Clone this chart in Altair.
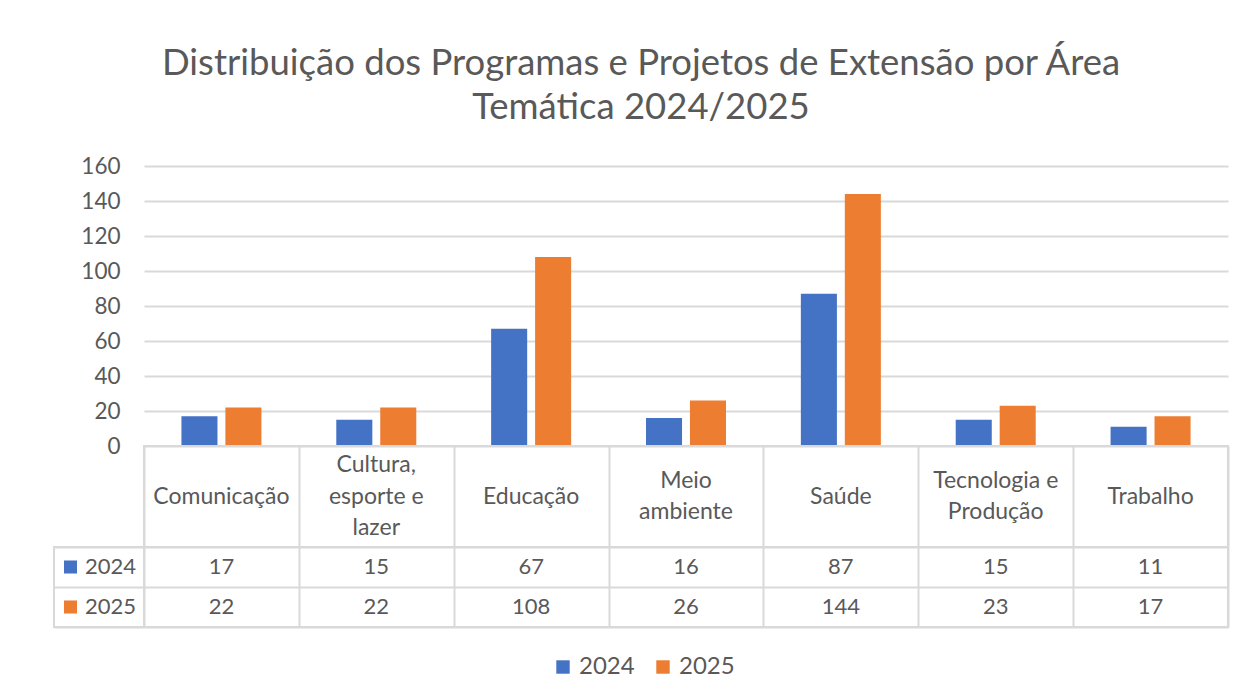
import altair as alt
import pandas as pd

categories = ["Comunicação", "Cultura, esporte e lazer", "Educação", "Meio ambiente",
              "Saúde", "Tecnologia e Produção", "Trabalho"]
header_lines = [["Comunicação"], ["Cultura,", "esporte e", "lazer"], ["Educação"],
                ["Meio", "ambiente"], ["Saúde"], ["Tecnologia e", "Produção"], ["Trabalho"]]
years = ["2024", "2025"]
values_2024 = [17, 15, 67, 16, 87, 15, 11]
values_2025 = [22, 22, 108, 26, 144, 23, 17]
y_ticks = [0, 20, 40, 60, 80, 100, 120, 140, 160]
colors = ["#4472C4", "#ED7D31"]

FONT = "Lato"
TXT = "#595959"
GRID = "#D9D9D9"

rows = []
for c, a, b in zip(categories, values_2024, values_2025):
    rows.append({"cat": c, "year": "2024", "value": a})
    rows.append({"cat": c, "year": "2025", "value": b})
df = pd.DataFrame(rows)

hrows = []
for c, lines in zip(categories, header_lines):
    n = len(lines)
    for i, t in enumerate(lines):
        hrows.append({"cat": c, "line": t, "pos": (n - 1) / 2 - i})
hdr = pd.DataFrame(hrows)
yr = pd.DataFrame({"year": years})

color_scale = alt.Scale(domain=years, range=colors)

PLOT_W = 1084
LBL_W = 90
HDR_H = 101
LINE_H = 31.5

bars = alt.Chart(df).mark_bar().encode(
    x=alt.X("cat:N", sort=categories, axis=None,
            scale=alt.Scale(paddingInner=0.4834, paddingOuter=0.2417)),
    xOffset=alt.XOffset("year:N", sort=years, scale=alt.Scale(paddingInner=0.18, paddingOuter=0)),
    y=alt.Y("value:Q", scale=alt.Scale(domain=[0, 160], nice=False),
            axis=alt.Axis(values=y_ticks, title=None, domain=False, ticks=False,
                          labelPadding=24, labelFont=FONT, labelFontSize=22.5,
                          labelColor=TXT, gridColor=GRID, gridWidth=2)),
    color=alt.Color("year:N", scale=color_scale,
                    legend=alt.Legend(title=None, orient="none", direction="horizontal",
                                      legendX=497, legendY=489,
                                      labelFont=FONT, labelFontSize=24, labelColor=TXT,
                                      symbolType="square", symbolSize=180, symbolStrokeWidth=0,
                                      columnPadding=16, labelOffset=4)),
).properties(width=PLOT_W, height=280)

spacer_df = pd.DataFrame({"a": [0]})
spacer1 = alt.Chart(spacer_df).mark_text(text="").properties(width=LBL_W, height=280)
spacer2 = alt.Chart(spacer_df).mark_text(text="").properties(width=LBL_W, height=HDR_H)

grid_axis = dict(labels=False, ticks=False, domain=False, title=None, grid=True,
                 gridColor=GRID, gridWidth=2, tickBand="extent")
table_view = alt.ViewBackground(stroke=GRID, strokeWidth=2)

half = HDR_H / LINE_H / 2
header = alt.Chart(hdr).mark_text(font=FONT, fontSize=23, color=TXT, baseline="middle").encode(
    x=alt.X("cat:N", sort=categories, scale=alt.Scale(paddingInner=0, paddingOuter=0),
            axis=alt.Axis(**grid_axis)),
    y=alt.Y("pos:Q", scale=alt.Scale(domain=[-half, half], nice=False, zero=False), axis=None),
    text="line:N",
).properties(width=PLOT_W, height=HDR_H, view=table_view)

values = alt.Chart(df).mark_text(font=FONT, fontSize=22, color=TXT, baseline="middle").encode(
    x=alt.X("cat:N", sort=categories, scale=alt.Scale(paddingInner=0, paddingOuter=0),
            axis=alt.Axis(**grid_axis)),
    y=alt.Y("year:N", sort=years, scale=alt.Scale(paddingInner=0, paddingOuter=0),
            axis=alt.Axis(**grid_axis)),
    text="value:Q",
).properties(width=PLOT_W, height=80, view=table_view)

lab_base = alt.Chart(yr).encode(
    y=alt.Y("year:N", sort=years, scale=alt.Scale(paddingInner=0, paddingOuter=0),
            axis=alt.Axis(**grid_axis)),
)
lab_sq = lab_base.mark_square(size=170, opacity=1).encode(
    x=alt.value(16.5),
    color=alt.Color("year:N", scale=color_scale, legend=None),
)
lab_txt = lab_base.mark_text(font=FONT, fontSize=22, color=TXT, align="left",
                             baseline="middle").encode(
    x=alt.value(31),
    text="year:N",
)
labels = alt.layer(lab_sq, lab_txt).properties(width=LBL_W, height=80, view=table_view)

chart = alt.concat(
    spacer1, bars, spacer2, header, labels, values,
    columns=2, spacing=0, bounds="flush",
).properties(
    title=alt.TitleParams(
        text=["Distribuição dos Programas e Projetos de Extensão por Área",
              "Temática 2024/2025"],
        font=FONT, fontSize=36.5, fontWeight="normal", color=TXT, anchor="middle",
        lineHeight=44, offset=29),
    padding={"left": 45, "top": 37, "right": 5, "bottom": 5},
    background="white",
).configure_view(stroke=None)

chart.save("out.html", embed_options={"renderer": "svg", "actions": False})
